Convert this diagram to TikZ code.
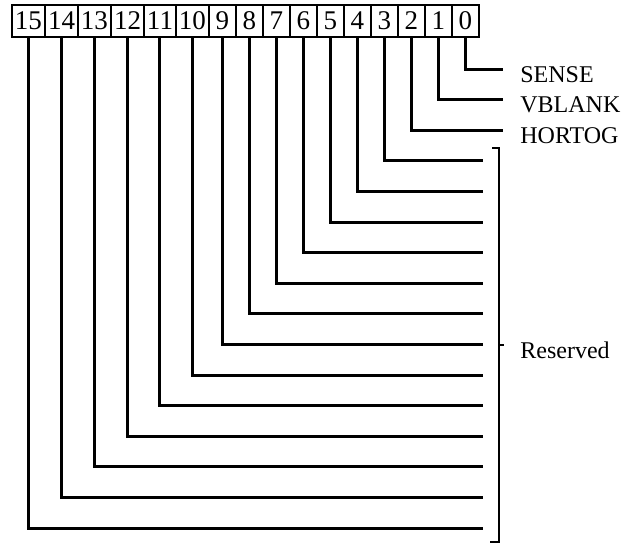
\documentclass[tikz,border=0pt]{standalone}
\usepackage{fontspec}
\setmainfont{Liberation Serif}
\usetikzlibrary{positioning}
\tikzset{
  bitbox/.style={draw, line width=1.2pt, minimum width=13.5pt, minimum height=16pt, inner xsep=1.5pt, inner ysep=0pt, outer sep=0pt, font=\fontsize{13.5}{14}\selectfont},
  wire/.style={line width=1.5pt},
  fieldname/.style={anchor=west, inner sep=0pt, font=\fontsize{12}{14}\selectfont}
}

\begin{document}
\begin{tikzpicture}[x=0.5pt, y=-0.5pt]
\useasboundingbox (0,0) rectangle (639,546);

% Register bits
\node (b15) [bitbox, anchor=west] at (12,21) {15};
\foreach \i [evaluate=\i as \j using int(\i+1)] in {14,...,0}
  \node (b\i) [bitbox, right=0pt of b\j] {\i};

% Named bits
\coordinate (e0) at (503,69);
\coordinate (e1) at (503,99);
\coordinate (e2) at (503,130);
\node (sense) [fieldname] at (520,75) {SENSE};
\node (vblank) [fieldname] at (520,105) {VBLANK};
\node (hortog) [fieldname] at (520,136) {HORTOG};
\draw [wire] (b0.south) |- (e0);
\draw [wire] (b1.south) |- (e1);
\draw [wire] (b2.south) |- (e2);

% Reserved bits
\foreach \i in {3,...,15} {
  \coordinate (r\i) at (483,{69+30.6*\i});
  \draw [wire] (b\i.south) |- (r\i);
}
\coordinate (brace) at (499,345);
\draw [line width=1.2pt] (492,148) -| (brace) |- (490,542);
\draw [line width=1.2pt] (brace) -- ++(5,0);
\node (reserved) [fieldname] at (520,350) {Reserved};

\end{tikzpicture}
\end{document}
